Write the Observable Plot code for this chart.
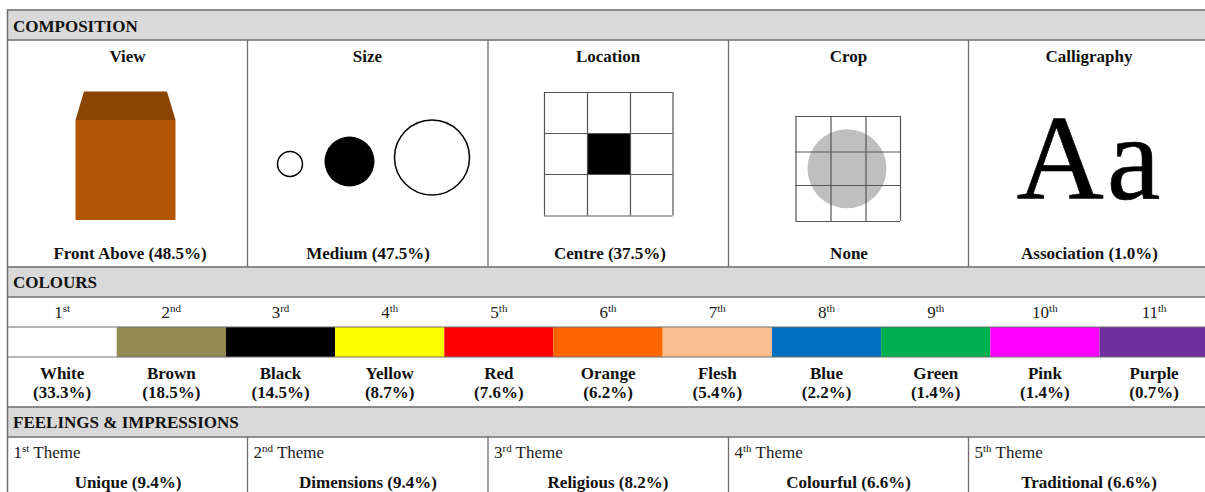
<!DOCTYPE html>
<html><head><meta charset="utf-8">
<script src="https://cdn.jsdelivr.net/npm/d3@7"></script>
<script src="https://cdn.jsdelivr.net/npm/@observablehq/plot@0.6"></script>
<style>html,body{margin:0;padding:0;background:#fff}svg{display:block}.aa text{letter-spacing:3px}</style>
</head><body><div id="chart"></div>
<script>
// ---- data ----
const sections = ["COMPOSITION", "COLOURS", "FEELINGS & IMPRESSIONS"];
const compositionHeads = ["View", "Size", "Location", "Crop", "Calligraphy"];
const compositionValues = ["Front Above (48.5%)", "Medium (47.5%)", "Centre (37.5%)", "None", "Association (1.0%)"];
const colourRanks = ["1st","2nd","3rd","4th","5th","6th","7th","8th","9th","10th","11th"];
const colourNames = ["White","Brown","Black","Yellow","Red","Orange","Flesh","Blue","Green","Pink","Purple"];
const colourShares = [33.3,18.5,14.5,8.7,7.6,6.2,5.4,2.2,1.4,1.4,0.7];
const colourFills = ["#ffffff","#938953","#000000","#ffff00","#ff0000","#ff6600","#fabf8f","#0070c0","#00b050","#ff00ff","#7030a0"];
const themeRanks = ["1st Theme","2nd Theme","3rd Theme","4th Theme","5th Theme"];
const themeNames = ["Unique","Dimensions","Religious","Colourful","Traditional"];
const themeShares = [9.4,9.4,8.2,6.6,6.6];

// ---- layout helpers (drawing units, not data) ----
const serif = "'Liberation Serif','Times New Roman',serif";
const ink = "#111", rule = "#6e6e6e";
const L = 7.5, R = 1205;
const headerBands = [[10,40],[267,297],[407,437]];
const colX = [L, 247.5, 488, 728.5, 968.5, R];
const colMid = i => [127.5, 367.5, 608, 848.5, 1089][i];
const sw = 109.2;
function grid(xs, ys, stroke = "#555") {
  return [
    Plot.ruleX(xs, {y1: ys[0], y2: ys[ys.length-1], stroke, strokeWidth: 1.2}),
    Plot.ruleY(ys, {x1: xs[0], x2: xs[xs.length-1], stroke, strokeWidth: 1.2})
  ];
}
const txt = (data, o) => Plot.text(data, {fontFamily: serif, fill: ink, lineAnchor: "bottom", ...o});

const locX = [544.5,587.5,630.5,673], locY = [92.5,133.5,174.5,216];
const cropX = [796,831,866,900.5], cropY = [116.5,152,185.5,221.5];

const plot = Plot.plot({
  width: 1205, height: 492,
  margin: 0, marginTop: 0, marginRight: 0, marginBottom: 0, marginLeft: 0,
  x: {type: "linear", domain: [0,1205], range: [-0.5,1204.5], axis: null},
  y: {type: "linear", domain: [0,492], range: [-0.5,491.5], axis: null},
  r: {type: "identity"},
  style: {background: "#fff"},
  marks: [
    // section headers
    Plot.rectY(headerBands, {x1: L, x2: R+1, y1: d => d[0], y2: d => d[1], fill: "#d9d9d9"}),
    Plot.ruleY(headerBands.flat(), {x1: L, x2: R+1, stroke: rule, strokeWidth: 1.5}),
    Plot.ruleX(colX.slice(1,5), {y1: 40, y2: 267, stroke: rule, strokeWidth: 1.3}),
    Plot.ruleX(colX.slice(1,5), {y1: 437, y2: 493, stroke: rule, strokeWidth: 1.3}),
    txt(sections, {x: 13, y: (d,i) => [31.5,287.5,427.5][i], text: d => d, textAnchor: "start", fontWeight: "bold", fontSize: 17}),

    // composition heads and values
    txt(compositionHeads, {x: (d,i) => colMid(i), y: 61.5, text: d => d, fontWeight: "bold", fontSize: 17}),
    txt(compositionValues, {x: (d,i) => [130,368,610,849,1089.5][i], y: 259, text: d => d, fontWeight: "bold", fontSize: 17}),

    // view: box
    Plot.areaY([[76,120.5],[84.5,92],[167.5,92],[176,120.5]], {x: d => d[0], y1: 120.5, y2: d => d[1], fill: "#8a4504", curve: "linear"}),
    Plot.rect([0], {x1: 76, x2: 176, y1: 120.5, y2: 220.5, fill: "#b25606"}),

    // size: circles
    Plot.dot([[290,164,12.5,"none","#000"],[349.5,161.5,25,"#000","none"],[432,157.5,37.5,"none","#000"]], {x: d => d[0], y: d => d[1], r: d => d[2], fill: d => d[3], stroke: d => d[4], strokeWidth: 1.5}),

    // location grid
    Plot.rect([0], {x1: locX[1]+.5, x2: locX[2]+.5, y1: locY[1]+.5, y2: locY[2]+.5, fill: "#000"}),
    ...grid(locX, locY),

    // crop grid
    Plot.dot([0], {x: 847, y: 168.7, r: 39.5, fill: "#bfbfbf"}),
    ...grid(cropX, cropY),

    // calligraphy
    txt(["Aa"], {className: "aa", x: 1090, y: 198.5, text: d => d, fontSize: 121, fill: "#000", stroke: "#000", strokeWidth: 0.6}),

    // colours
    txt(colourRanks, {className: "ord", x: (d,i) => L + sw*(i+.5), y: 318, text: d => d, fontSize: 17, fill: "#222"}),
    Plot.rect(colourFills, {x1: (d,i) => L + sw*i + .5, x2: (d,i) => L + sw*(i+1) + .5, y1: 327.5, y2: 357.5, fill: d => d}),
    Plot.ruleY([327,357], {x1: L, x2: R+1, stroke: rule, strokeWidth: 1.2}),
    txt(colourNames, {x: (d,i) => L + sw*(i+.5), y: 379, text: d => d, fontWeight: "bold", fontSize: 17}),
    txt(colourShares, {x: (d,i) => L + sw*(i+.5), y: 398, text: d => `(${d.toFixed(1)}%)`, fontWeight: "bold", fontSize: 17}),

    // themes
    txt(themeRanks, {className: "ord", x: (d,i) => colX[i] + 6, y: 458, text: d => d, textAnchor: "start", fontSize: 17, fill: "#222"}),
    txt(themeNames, {x: (d,i) => [128,368,608,848.5,1089][i], y: 488, text: (d,i) => `${d} (${themeShares[i].toFixed(1)}%)`, fontWeight: "bold", fontSize: 17}),

    // frame
    Plot.ruleX([L], {y1: 10, y2: 493, stroke: rule, strokeWidth: 1.5})
  ]
});
document.getElementById("chart").append(plot);

// ordinals: raise the suffix, keeping one text element
d3.select(plot).selectAll(".ord text").each(function() {
  const m = this.textContent.match(/^(\d+)(st|nd|rd|th)(.*)$/);
  if (!m) return;
  const t = d3.select(this).text(null);
  t.append("tspan").text(m[1]);
  t.append("tspan").attr("font-size", "11").attr("dy", "-6").text(m[2]);
  if (m[3]) t.append("tspan").attr("dy", "6").text(m[3]);
});
</script></body></html>
